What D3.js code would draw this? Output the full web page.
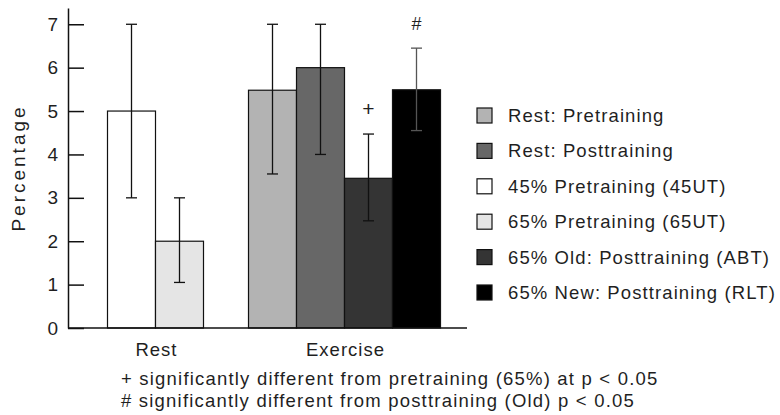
<!DOCTYPE html>
<html>
<head>
<meta charset="utf-8">
<script src="https://cdn.jsdelivr.net/npm/d3@7"></script>
<style>
  html, body { margin: 0; padding: 0; background: #fff; }
  svg { display: block; font-family: "Liberation Sans", Arial, Helvetica, sans-serif; }
</style>
</head>
<body>
<svg id="chart" width="780" height="415"></svg>
<script>
// Group categories along the x axis
const groups = ["Rest", "Exercise"];

// Legend entries and their fills
const seriesLabels = [
  "Rest: Pretraining",
  "Rest: Posttraining",
  "45% Pretraining (45UT)",
  "65% Pretraining (65UT)",
  "65% Old: Posttraining (ABT)",
  "65% New: Posttraining (RLT)"
];
const seriesFills = ["#b3b3b3", "#676767", "#ffffff", "#e5e5e5", "#343434", "#000000"];

// Bars: which group, which series, mean value and error range
const barGroup  = ["Rest", "Rest", "Exercise", "Exercise", "Exercise", "Exercise"];
const barSeries = [2, 3, 0, 1, 4, 5];
const barValues = [5.0, 2.0, 5.48, 6.0, 3.45, 5.49];
const errLow    = [3.0, 1.05, 3.55, 4.0, 2.47, 4.55];
const errHigh   = [7.0, 3.0, 7.0, 7.0, 4.47, 6.45];
const barMarks  = ["", "", "", "", "+", "#"];

// Y axis ticks
const yTicks = [0, 1, 2, 3, 4, 5, 6, 7];

const footnotes = [
  "+ significantly different from pretraining (65%) at p < 0.05",
  "# significantly different from posttraining (Old) p < 0.05"
];

const ink = "#1f1f1f";
const svg = d3.select("#chart");

const axisX0 = 68, axisX1 = 467, baseY = 328;
const y = d3.scaleLinear().domain([0, 7.375]).range([baseY, 8]);
const gx = d3.scaleBand().domain(groups).range([61, 439]);
const barW = 48;

// Bar x positions: bars in a group are packed side by side around the group centre
const groupCounts = {};
barGroup.forEach(g => groupCounts[g] = (groupCounts[g] || 0) + 1);
const groupIndex = {};
const bars = barValues.map((v, i) => {
  const g = barGroup[i];
  const k = groupIndex[g] = (groupIndex[g] === undefined ? 0 : groupIndex[g] + 1);
  const center = gx(g) + gx.bandwidth() / 2;
  const x = center - groupCounts[g] * barW / 2 + k * barW;
  return { x, v, lo: errLow[i], hi: errHigh[i], fill: seriesFills[barSeries[i]], mark: barMarks[i] };
});

// Bars
svg.append("g").selectAll("rect").data(bars).join("rect")
  .attr("x", d => d.x)
  .attr("y", d => y(d.v))
  .attr("width", barW)
  .attr("height", d => baseY - y(d.v))
  .attr("fill", d => d.fill)
  .attr("stroke", "#111")
  .attr("stroke-width", 1.2);

// Error bars
const eb = svg.append("g").attr("stroke-width", 1.3);
bars.forEach(d => {
  const cx = d.x + barW / 2;
  const col = d.fill === "#000000" ? "#555" : "#111";
  eb.append("line").attr("x1", cx).attr("x2", cx).attr("y1", y(d.lo)).attr("y2", y(d.hi)).attr("stroke", col);
  eb.append("line").attr("x1", cx - 5.5).attr("x2", cx + 5.5).attr("y1", y(d.hi)).attr("y2", y(d.hi)).attr("stroke", col);
  eb.append("line").attr("x1", cx - 5.5).attr("x2", cx + 5.5).attr("y1", y(d.lo)).attr("y2", y(d.lo)).attr("stroke", col);
});

// Significance marks above error bars
svg.append("g").selectAll("text").data(bars.filter(d => d.mark)).join("text")
  .attr("x", d => d.x + barW / 2)
  .attr("y", d => y(d.hi) - 18.5)
  .attr("text-anchor", "middle")
  .attr("font-size", d => d.mark === "+" ? 21 : 18)
  .attr("fill", ink)
  .text(d => d.mark);

// Y axis with inward ticks
const yAxis = d3.axisLeft(y).tickValues(yTicks).tickFormat(d3.format("d"))
  .tickSizeInner(-16).tickSizeOuter(0).tickPadding(10);
const ya = svg.append("g").attr("transform", `translate(${axisX0},0)`).call(yAxis);
ya.select(".domain").attr("stroke", "#111").attr("stroke-width", 1.5);
ya.selectAll(".tick line").attr("stroke", "#111").attr("stroke-width", 1.5);
ya.selectAll(".tick text").attr("font-size", 19).attr("fill", ink)
  .attr("font-family", "Liberation Sans, Arial, sans-serif");

// X baseline
svg.append("line").attr("x1", axisX0).attr("x2", axisX1).attr("y1", baseY).attr("y2", baseY)
  .attr("stroke", "#111").attr("stroke-width", 1.5);

// Group labels
svg.append("g").selectAll("text").data(groups).join("text")
  .attr("x", g => gx(g) + gx.bandwidth() / 2 + 1)
  .attr("y", 355.5)
  .attr("text-anchor", "middle")
  .attr("font-size", 18.5)
  .attr("letter-spacing", 1)
  .attr("fill", ink)
  .text(g => g);

// Y axis title
svg.append("text")
  .attr("transform", "translate(25,168) rotate(-90)")
  .attr("text-anchor", "middle")
  .attr("font-size", 19)
  .attr("letter-spacing", 3)
  .attr("fill", ink)
  .text("Percentage");

// Legend
const lg = svg.append("g").selectAll("g").data(seriesLabels).join("g")
  .attr("transform", (d, i) => `translate(477,${108 + i * 35.4})`);
lg.append("rect").attr("width", 15).attr("height", 15)
  .attr("fill", (d, i) => seriesFills[i]).attr("stroke", "#111").attr("stroke-width", 1.2);
lg.append("text").attr("x", 31).attr("y", 14)
  .attr("font-size", 18.5).attr("letter-spacing", 1.1)
  .attr("fill", ink).text(d => d);

// Footnotes
svg.append("g").selectAll("text").data(footnotes).join("text")
  .attr("x", 121)
  .attr("y", (d, i) => 385 + i * 22)
  .attr("font-size", 18.5)
  .attr("letter-spacing", 1.2)
  .attr("fill", ink)
  .text(d => d);
</script>
</body>
</html>
